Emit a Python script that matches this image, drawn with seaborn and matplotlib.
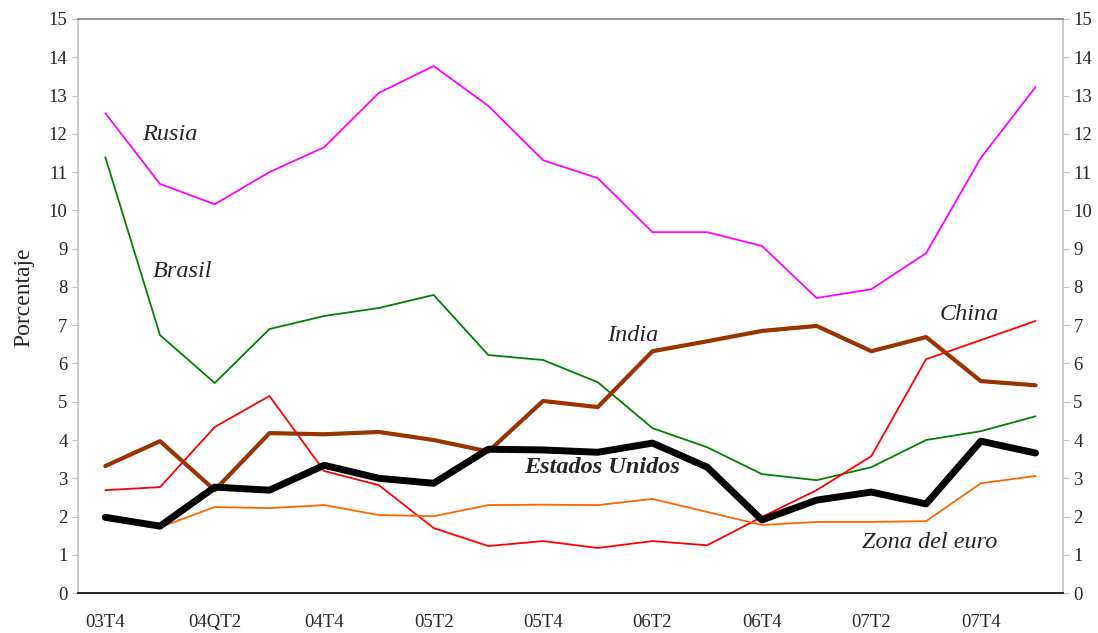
import pandas as pd
import numpy as np
import matplotlib.pyplot as plt
import seaborn as sns

# quarters 03T4 .. 08T1
trimestres = ["03T4", "04T1", "04QT2", "04T3", "04T4", "05T1", "05T2", "05T3", "05T4",
              "06T1", "06T2", "06T3", "06T4", "07T1", "07T2", "07T3", "07T4", "08T1"]

rusia = [12.54, 10.69, 10.16, 11.0, 11.65, 13.07, 13.77, 12.73, 11.31,
         10.84, 9.43, 9.43, 9.07, 7.71, 7.94, 8.88, 11.37, 13.22]
brasil = [11.39, 6.74, 5.49, 6.9, 7.24, 7.45, 7.79, 6.22, 6.09,
          5.51, 4.31, 3.81, 3.11, 2.95, 3.29, 4.0, 4.23, 4.62]
india = [3.32, 3.97, 2.69, 4.18, 4.15, 4.21, 4.0, 3.7, 5.02,
         4.86, 6.32, 6.58, 6.85, 6.98, 6.32, 6.69, 5.54, 5.43]
china = [2.69, 2.77, 4.34, 5.15, 3.19, 2.82, 1.70, 1.23, 1.36,
         1.18, 1.36, 1.25, 1.99, 2.69, 3.58, 6.11, 6.61, 7.11]
eeuu = [1.98, 1.75, 2.77, 2.69, 3.34, 3.0, 2.87, 3.76, 3.74,
        3.68, 3.92, 3.29, 1.91, 2.43, 2.64, 2.33, 3.97, 3.66]
euro = [1.98, 1.72, 2.25, 2.22, 2.30, 2.04, 2.01, 2.30, 2.31,
        2.30, 2.46, 2.12, 1.78, 1.86, 1.86, 1.88, 2.87, 3.06]

series = {
    "Rusia": (rusia, "#FF00FF", 1.3),
    "Brasil": (brasil, "#008000", 1.3),
    "China": (china, "#FF0000", 1.3),
    "Zona del euro": (euro, "#FF6600", 1.3),
    "India": (india, "#993300", 3.0),
    "Estados Unidos": (eeuu, "#000000", 5.0),
}

sns.set_style("white")
plt.rcParams['font.family'] = 'Liberation Serif'

fig = plt.figure(figsize=(10.98, 6.33), dpi=100)
ax = fig.add_axes([0.071, 0.063, 0.897, 0.907])

x = np.arange(len(trimestres))
for name, (vals, color, lw) in series.items():
    df = pd.DataFrame({"x": x, "y": vals})
    sns.lineplot(data=df, x="x", y="y", color=color, linewidth=lw, ax=ax)

ax.set_xlim(-0.5, len(trimestres) - 0.5)
ax.set_ylim(0, 15)
ax.set_yticks(range(0, 16))
ax.set_xticks(x[::2])
ax.set_xticklabels(trimestres[::2])
ax.set_xticks(np.arange(-0.5, len(trimestres), 1), minor=True)
ax.tick_params(axis="x", which="major", length=0, labelsize=13.5, pad=15)
ax.tick_params(axis="x", which="minor", length=5, color="black", direction="out")
ax.tick_params(axis="y", labelsize=13.5, left=True, right=True, labelright=True,
               length=4, color="#c0c0c0", direction="out")
ax.set_xlabel("")
ax.set_ylabel("Porcentaje", fontsize=17)
ax.yaxis.set_label_coords(-0.044, 0.516)

ax.spines["left"].set_color("#c0c0c0")
ax.spines["right"].set_color("#c0c0c0")
ax.spines["top"].set_color("#808080")
ax.spines["bottom"].set_color("black")
for s in ax.spines.values():
    s.set_linewidth(1.2)

lab = dict(fontsize=17.5, style="italic", ha="center", va="center")
ax.text(1.18, 11.97, "Rusia", **lab)
ax.text(1.42, 8.41, "Brasil", **lab)
ax.text(9.64, 6.74, "India", **lab)
ax.text(15.79, 7.29, "China", **lab)
ax.text(9.08, 3.29, "Estados Unidos", weight="bold", **lab)
ax.text(15.07, 1.31, "Zona del euro", **lab)

fig.savefig("out.png", dpi=100)
